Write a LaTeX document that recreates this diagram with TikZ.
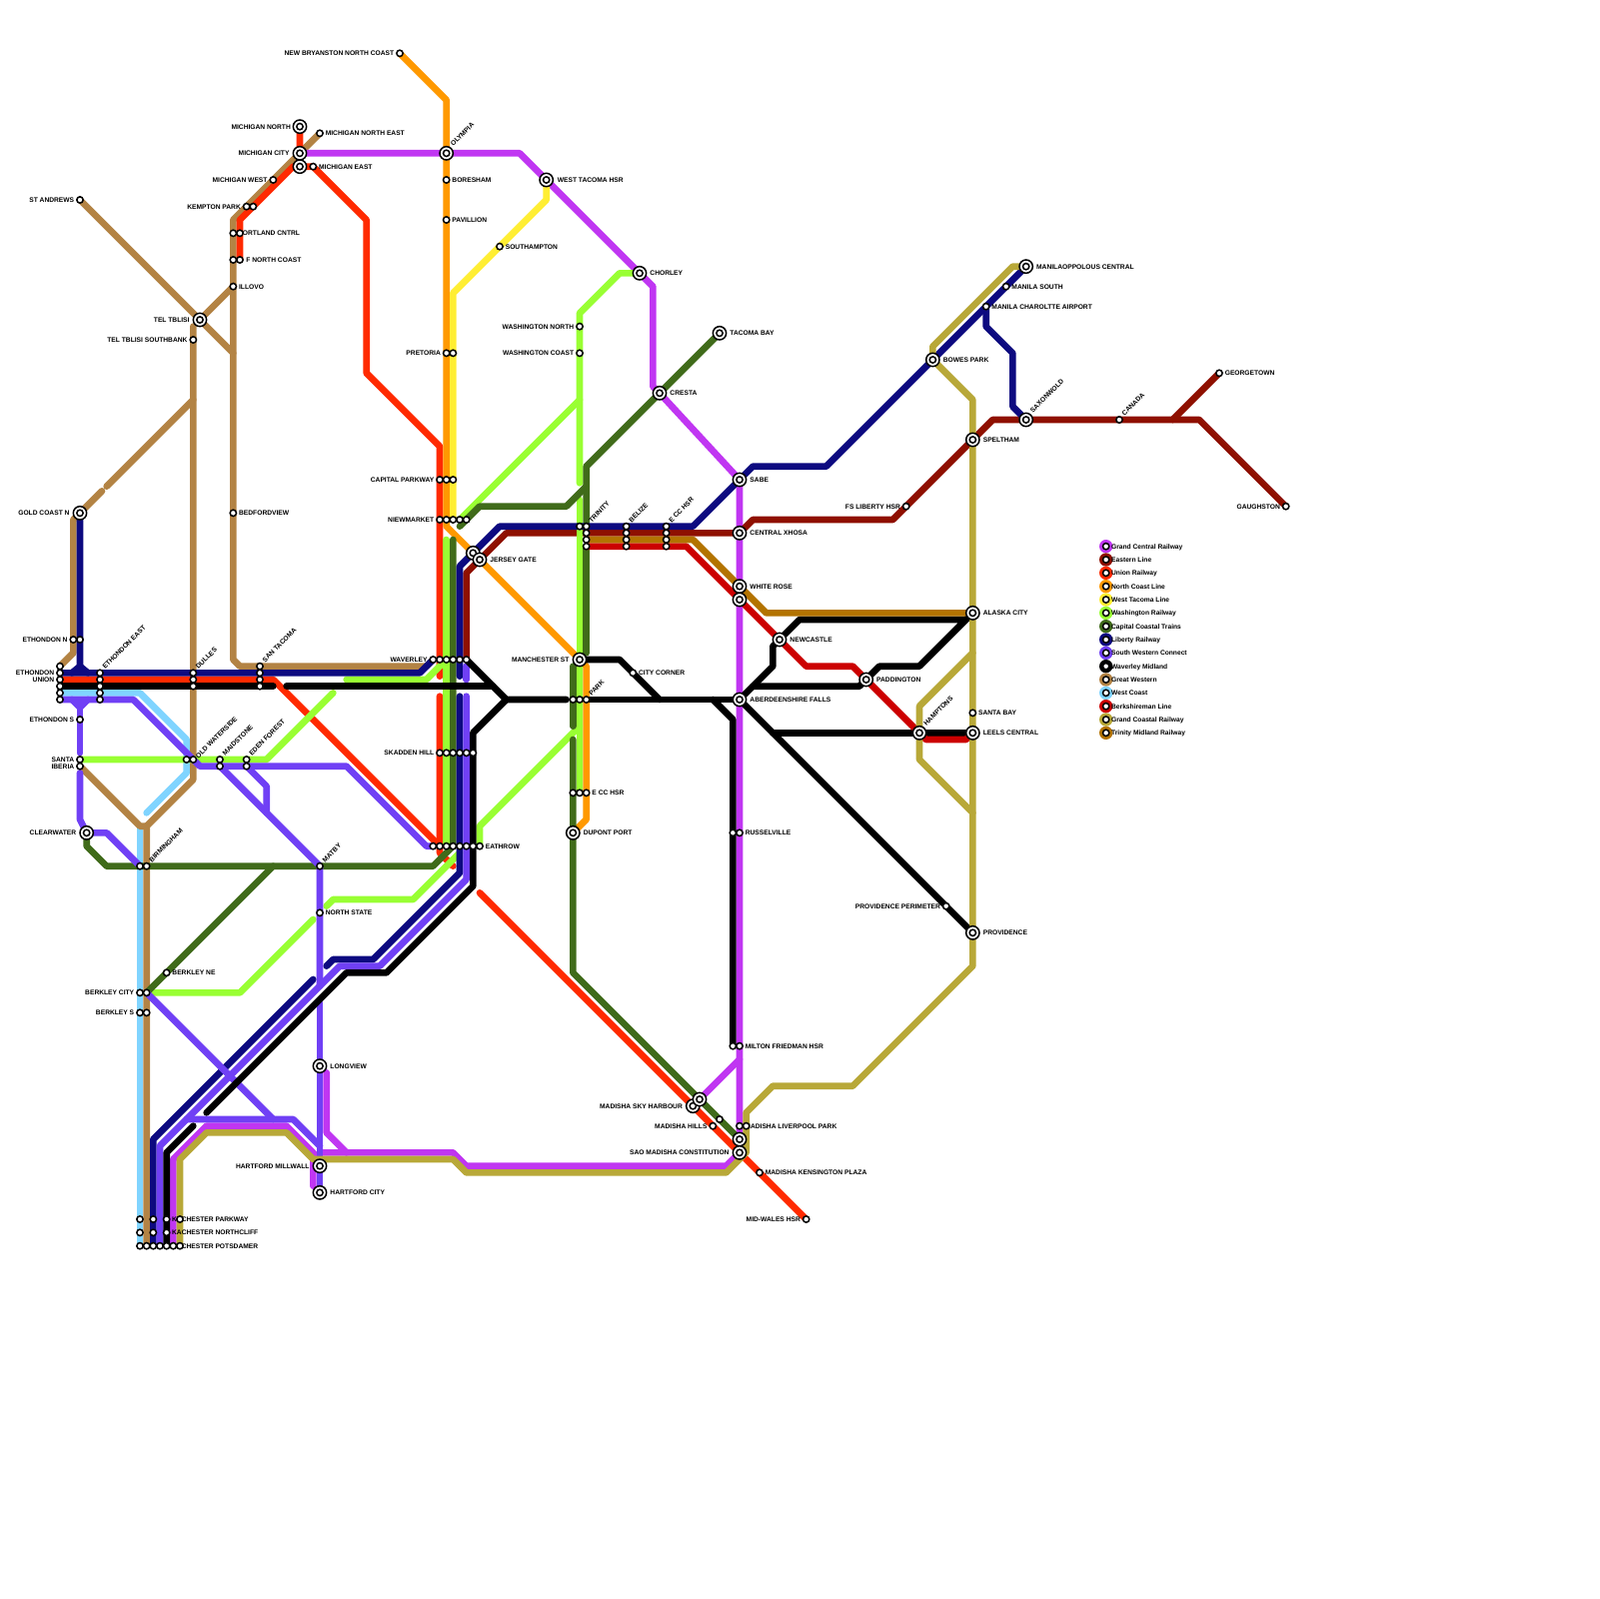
\documentclass[tikz,border=0pt]{standalone}
\usepackage{fontspec}
\setmainfont{Liberation Sans}[BoldFont={Liberation Sans Bold}]
\definecolor{cGC}{HTML}{C036F2}
\definecolor{cEA}{HTML}{8F1000}
\definecolor{cUN}{HTML}{FF2A00}
\definecolor{cNC}{HTML}{FF9900}
\definecolor{cWT}{HTML}{FFEE33}
\definecolor{cWA}{HTML}{99FF33}
\definecolor{cCC}{HTML}{406B1A}
\definecolor{cLI}{HTML}{0D0A80}
\definecolor{cSW}{HTML}{7040F5}
\definecolor{cWM}{HTML}{000000}
\definecolor{cGW}{HTML}{B38344}
\definecolor{cWC}{HTML}{80D4FF}
\definecolor{cBE}{HTML}{CC0000}
\definecolor{cGO}{HTML}{B8A838}
\definecolor{cTM}{HTML}{B37300}
\pgfdeclarelayer{lines}
\pgfdeclarelayer{top}
\pgfsetlayers{lines,main,top}
\tikzset{
 ln/.style={line width=1mm,line cap=round,line join=round,draw=#1},
 stn/.style={circle,draw=black,fill=white,line width=0.65pt,minimum size=0.95mm,inner sep=0pt},
 icn/.style={circle,draw=black,fill=white,line width=0.65pt,minimum size=2mm,inner sep=0pt},
 bub/.style={circle,fill=#1,minimum size=2mm,inner sep=0pt},
 lab/.style={inner sep=0pt,font=\fontsize{2.85}{3.2}\selectfont\bfseries,text=black}
}
\newcommand\sA[3]{\node[stn] (#1) at (#2,#3) {};}
\newcommand\sB[3]{\node[icn] (#1) at (#2,#3) {}; \node[stn] (#1i) at (#2,#3) {};}
\newcommand\lR[3][0.8]{\node[lab,anchor=base west] (#2t) at ([xshift=#1mm,yshift=-1pt]#2.center) {#3};}
\newcommand\lL[3][0.8]{\node[lab,anchor=base east] (#2t) at ([xshift=-#1mm,yshift=-1pt]#2.center) {#3};}
\newcommand\lU[3][0.75mm,0.5mm]{\node[lab,anchor=base west,rotate=45] (#2t) at ([shift={(#1)}]#2.center) {#3};}
\newcommand\legit[3]{\node[bub=#2] (lgb#1) at (166,#1) {}; \node[stn] (lgs#1) at (166,#1) {}; \node[lab,anchor=base west] (lgt#1) at ([xshift=0.75mm,yshift=-1pt]lgs#1.center) {#3};}
\begin{document}
\begin{tikzpicture}[x=1mm,y=-1mm]
\useasboundingbox (0,0) rectangle (240,240);
\begin{pgfonlayer}{top}
\sA{nb}{60}{8}\sB{oly}{67}{23}\sA{bor}{67}{27}\sA{pav}{67}{33}\sA{pra}{67}{53}\sA{prb}{68}{53}
\sA{cpa}{66}{72}\sA{cpb}{67}{72}\sA{cpc}{68}{72}
\sA{nma}{66}{78}\sA{nmb}{67}{78}\sA{nmc}{68}{78}\sA{nmd}{69}{78}\sA{nme}{70}{78}
\sA{wva}{65}{99}\sA{wvb}{66}{99}\sA{wvc}{67}{99}\sA{wvd}{68}{99}\sA{wve}{69}{99}\sA{wvf}{70}{99}
\sB{jga}{71}{83}\sB{jgb}{72}{84}\sB{man}{87}{99}
\sA{pka}{86}{105}\sA{pkb}{87}{105}\sA{pkc}{88}{105}\sA{cco}{95}{101}
\sA{tra}{87}{79}\sA{trb}{88}{79}\sA{trc}{88}{80}\sA{trd}{88}{81}\sA{tre}{88}{82}
\sA{bea}{94}{79}\sA{beb}{94}{80}\sA{bec}{94}{81}\sA{bed}{94}{82}
\sA{eca}{100}{79}\sA{ecb}{100}{80}\sA{ecc}{100}{81}\sA{ecd}{100}{82}
\sA{ska}{66}{113}\sA{skb}{67}{113}\sA{skc}{68}{113}\sA{skd}{69}{113}\sA{ske}{70}{113}\sA{skf}{71}{113}
\sA{exa}{86}{119}\sA{exb}{87}{119}\sA{exc}{88}{119}\sB{dup}{86}{125}
\sA{eaa}{65}{127}\sA{eab}{66}{127}\sA{eac}{67}{127}\sA{ead}{68}{127}\sA{eae}{69}{127}\sA{eaf}{70}{127}\sA{eag}{71}{127}\sA{eah}{72}{127}
\sA{etha}{9}{100}\sA{ethb}{9}{101}\sA{ethc}{9}{102}\sA{ethd}{9}{103}\sA{ethe}{9}{104}\sA{ethf}{9}{105}
\sA{eea}{15}{101}\sA{eeb}{15}{102}\sA{eec}{15}{103}\sA{eed}{15}{104}\sA{eee}{15}{105}
\sA{ena}{11}{96}\sA{enb}{12}{96}\sB{gcn}{12}{77}\sA{ess}{12}{108}\sA{san}{12}{114}\sA{ibe}{12}{115}
\sA{dua}{29}{101}\sA{dub}{29}{102}\sA{duc}{29}{103}
\sA{sta}{39}{100}\sA{stb}{39}{101}\sA{stc}{39}{102}\sA{std}{39}{103}
\sA{owa}{28}{114}\sA{owb}{29}{114}\sA{mda}{33}{114}\sA{mdb}{33}{115}\sA{efa}{37}{114}\sA{efb}{37}{115}
\sB{clw}{13}{125}\sA{bia}{21}{130}\sA{bib}{22}{130}\sA{mat}{48}{130}\sA{nst}{48}{137}\sA{bne}{25}{146}
\sA{bca}{21}{149}\sA{bcb}{22}{149}\sA{bsa}{21}{152}\sA{bsb}{22}{152}
\sB{lon}{48}{160}\sB{hmi}{48}{175}\sB{hci}{48}{179}
\sA{kpa}{21}{183}\sA{kpb}{23}{183}\sA{kpc}{25}{183}\sA{kpd}{27}{183}
\sA{kna}{21}{185}\sA{knb}{23}{185}\sA{knc}{25}{185}
\sA{kka}{21}{187}\sA{kkb}{22}{187}\sA{kkc}{23}{187}\sA{kkd}{24}{187}\sA{kke}{25}{187}\sA{kkf}{26}{187}\sA{kkg}{27}{187}
\sB{msh}{104}{166}\sB{msi}{105}{165}\sA{msj}{108}{168}\sA{mhi}{107}{169}\sA{lva}{111}{169}\sA{lvb}{112}{169}
\sB{mdx}{111}{171}\sB{sao}{111}{173}\sA{ken}{114}{176}\sA{mid}{121}{183}\sA{mfa}{110}{157}\sA{mfb}{111}{157}
\sB{mno}{45}{19}\sA{mne}{48}{20}\sB{mci}{45}{23}\sB{mea}{45}{25}\sA{mex}{47}{25}\sA{mwe}{41}{27}
\sA{kea}{37}{31}\sA{keb}{38}{31}\sA{poa}{35}{35}\sA{pob}{36}{35}\sA{nca}{35}{39}\sA{ncb}{36}{39}\sA{ill}{35}{43}
\sB{tel}{30}{48}\sA{tes}{29}{51}\sA{sta0}{12}{30}\sA{bed}{35}{77}
\sB{wth}{82}{27}\sA{sou}{75}{37}\sB{cho}{96}{41}\sB{cre}{99}{59}\sB{tac}{108}{50}\sA{wsn}{87}{49}\sA{wsc}{87}{53}
\sB{sab}{111}{72}\sB{cxh}{111}{80}\sB{wro}{111}{88}\sB{wrb}{111}{90}\sB{new}{117}{96}\sB{pad}{130}{102}\sB{abe}{111}{105}
\sB{ham}{138}{110}\sB{lee}{146}{110}\sA{sby}{146}{107}\sB{ala}{146}{92}\sA{rua}{110}{125}\sA{rub}{111}{125}
\sA{ppe}{142}{136}\sB{pro}{146}{140}\sB{bow}{140}{54}\sB{spe}{146}{66}\sA{fsl}{136}{76}
\sB{mpc}{154}{40}\sA{mso}{151}{43}\sA{mch}{148}{46}\sB{sax}{154}{63}\sA{can}{168}{63}\sA{geo}{183}{56}\sA{gau}{193}{76}
\end{pgfonlayer}
% labels
\lL{nb}{NEW BRYANSTON NORTH COAST}\lU[1mm,0.95mm]{oly}{OLYMPIA}\lR{bor}{BORESHAM}\lR{pav}{PAVILLION}\lL{pra}{PRETORIA}
\lL{cpa}{CAPITAL PARKWAY}\lL{nma}{NIEWMARKET}\lL{wva}{WAVERLEY}\lR[1.5]{jgb}{JERSEY GATE}\lL[1.5]{man}{MANCHESTER ST}
\lU{pkc}{PARK}\lR{cco}{CITY CORNER}\lU{trb}{TRINITY}\lU{bea}{BELIZE}\lU{eca}{E CC HSR}
\lL{ska}{SKADDEN HILL}\lR{exc}{E CC HSR}\lR[1.5]{dup}{DUPONT PORT}\lR{eah}{EATHROW}
\lL{ethb}{ETHONDON}\lL{ethc}{UNION}\lU{eea}{ETHONDON EAST}\lL{ena}{ETHONDON N}\lL[1.5]{gcn}{GOLD COAST N}\lL{ess}{ETHONDON S}
\lL{san}{SANTA}\lL{ibe}{IBERIA}\lU{dua}{DULLES}\lU{sta}{SAN TACOMA}\lU[0.75mm,0.1mm]{owb}{OLD WATERSIDE}\lU{mda}{MAIDSTONE}\lU{efa}{EDEN FOREST}
\lL[1.5]{clw}{CLEARWATER}\lU{bib}{BIRMINGHAM}\lU{mat}{MATBY}\lR{nst}{NORTH STATE}\lR{bne}{BERKLEY NE}
\lL{bca}{BERKLEY CITY}\lL{bsa}{BERKLEY S}\lR[1.5]{lon}{LONGVIEW}\lL[1.5]{hmi}{HARTFORD MILLWALL}\lR[1.5]{hci}{HARTFORD CITY}
\lR[0.75]{kpc}{KACHESTER PARKWAY}\lR[0.75]{knc}{KACHESTER NORTHCLIFF}\lR[0.75]{kke}{KACHESTER POTSDAMER}
\lL[1.5]{msh}{MADISHA SKY HARBOUR}\lL{mhi}{MADISHA HILLS}\lR[0.75]{lva}{MADISHA LIVERPOOL PARK}\lL[1.5]{sao}{SAO MADISHA CONSTITUTION}
\lR{ken}{MADISHA KENSINGTON PLAZA}\lL{mid}{MID-WALES HSR}\lR{mfb}{MILTON FRIEDMAN HSR}
\lL[1.3]{mno}{MICHIGAN NORTH}\lR{mne}{MICHIGAN NORTH EAST}\lL[1.5]{mci}{MICHIGAN CITY}\lR{mex}{MICHIGAN EAST}\lL{mwe}{MICHIGAN WEST}
\lL{kea}{KEMPTON PARK}\lR[0.7]{poa}{PORTLAND CNTRL}\node[lab,anchor=base west] (ncbt) at ([xshift=0.9mm,yshift=-1pt]ncb.center) {F NORTH COAST};
\lR{ill}{ILLOVO}\lL[1.5]{tel}{TEL TBLISI}\lL{tes}{TEL TBLISI SOUTHBANK}\lL{sta0}{ST ANDREWS}\lR{bed}{BEDFORDVIEW}
\lR[1.6]{wth}{WEST TACOMA HSR}\lR{sou}{SOUTHAMPTON}\lR[1.5]{cho}{CHORLEY}\lR[1.5]{cre}{CRESTA}\lR[1.5]{tac}{TACOMA BAY}
\lL{wsn}{WASHINGTON NORTH}\lL{wsc}{WASHINGTON COAST}\lR[1.5]{sab}{SABE}\lR[1.5]{cxh}{CENTRAL XHOSA}\lR[1.5]{wro}{WHITE ROSE}
\lR[1.5]{new}{NEWCASTLE}\lR[1.5]{pad}{PADDINGTON}\lR[1.5]{abe}{ABERDEENSHIRE FALLS}\lU[1mm,0.95mm]{ham}{HAMPTONS}\lR[1.5]{lee}{LEELS CENTRAL}
\lR{sby}{SANTA BAY}\lR[1.5]{ala}{ALASKA CITY}\lR{rub}{RUSSELVILLE}\lL{ppe}{PROVIDENCE PERIMETER}\lR[1.5]{pro}{PROVIDENCE}
\lR[1.5]{bow}{BOWES PARK}\lR[1.5]{spe}{SPELTHAM}\lL{fsl}{FS LIBERTY HSR}\lR[1.5]{mpc}{MANILAOPPOLOUS CENTRAL}\lR{mso}{MANILA SOUTH}
\lR{mch}{MANILA CHAROLTTE AIRPORT}\lU[1mm,0.95mm]{sax}{SAXONWOLD}\lU{can}{CANADA}\lR{geo}{GEORGETOWN}\lL{gau}{GAUGHSTON}
% legend
\legit{82}{cGC}{Grand Central Railway}\legit{84}{cEA}{Eastern Line}\legit{86}{cUN}{Union Railway}\legit{88}{cNC}{North Coast Line}
\legit{90}{cWT}{West Tacoma Line}\legit{92}{cWA}{Washington Railway}\legit{94}{cCC}{Capital Coastal Trains}\legit{96}{cLI}{Liberty Railway}
\legit{98}{cSW}{South Western Connect}\legit{100}{cWM}{Waverley Midland}\legit{102}{cGW}{Great Western}\legit{104}{cWC}{West Coast}
\legit{106}{cBE}{Berkshireman Line}\legit{108}{cGO}{Grand Coastal Railway}\legit{110}{cTM}{Trinity Midland Railway}
\begin{pgfonlayer}{lines}
\fill[white] (0,0) rectangle (240,240);
% West Coast
\draw[ln=cWC] (ethe.center) -- (21,104) -- (28,111) -- (28,116) -- (22,122);
\draw[ln=cWC] (21,124) -- (kka.center);
% Great Western
\draw[ln=cGW] (sta0.center) -- (tel.center) -- (ill.center);
\draw[ln=cGW] (tel.center) -- (35,53);
\draw[ln=cGW] (mne.center) -- (35,33) -- (35,99) -- (36,100) -- (64,100) -- (wva.center);
\draw[ln=cGW] (29,49) -- (29,117) -- (22,124) -- (kkb.center);
\draw[ln=cGW] (ibe.center) -- (21,124) -- (22,124);
\draw[ln=cGW] (etha.center) -- (11,98) -- (11,78) -- (gcn.center) -- (15.3,73.7);
\draw[ln=cGW] (16,73) -- (29,60);
% Grand Central
\draw[ln=cGC] (mci.center) -- (78,23) -- (wth.center) -- (cho.center) -- (98,43) -- (98,58) -- (cre.center) -- (sab.center) -- (sao.center) -- (109,175) -- (70,175) -- (68,173) -- (48,173);
\draw[ln=cGC] (49,161) -- (49,170) -- (52,173);
\draw[ln=cGC] (47,178) -- (47,174) -- (48,173);
\draw[ln=cGC] (kkf.center) -- (26,174) -- (31,169) -- (43,169) -- (47,173);
\draw[ln=cGC] (msi.center) -- (111,159);
% Eastern
\draw[ln=cEA] (gau.center) -- (180,63) -- (149,63) -- (spe.center) -- (fsl.center) -- (134,78) -- (113,78) -- (cxh.center) -- (76,80) -- (70,86) -- (wvf.center);
\draw[ln=cEA] (geo.center) -- (176,63);
% Union
\draw[ln=cUN] (72,134) -- (mid.center);
\draw[ln=cUN] (68,130) -- (66,128) -- (66,104.5);
\draw[ln=cUN] (66,101.5) -- (wvb.center) -- (66,67) -- (65,66) -- (55,56) -- (55,33) -- (mex.center) -- (mea.center) -- (mci.center) -- (mno.center);
\draw[ln=cUN] (mea.center) -- (44,25) -- (36,33) -- (ncb.center);
\draw[ln=cUN] (ethc.center) -- (41,102) -- (65,126) -- (eab.center);
% North Coast
\draw[ln=cNC] (nb.center) -- (67,15) -- (67,79) -- (man.center) -- (88,100) -- (88,123) -- (dup.center);
% West Tacoma
\draw[ln=cWT] (wth.center) -- (82,30) -- (68,44) -- (nmc.center);
% Washington
\draw[ln=cWA] (cho.center) -- (93,41) -- (87,47) -- (87,72.5);
\draw[ln=cWA] (87,75) -- (exb.center);
\draw[ln=cWA] (nmd.center) -- (87,60);
\draw[ln=cWA] (67,81) -- (eac.center);
\draw[ln=cWA] (69,128) -- (62,135) -- (50,135) -- (49,136);
\draw[ln=cWA] (52,102) -- (64,102) -- (wvc.center);
\draw[ln=cWA] (san.center) -- (40,114) -- (50,104);
\draw[ln=cWA] (bcb.center) -- (36,149) -- (47,138);
\draw[ln=cWA] (eah.center) -- (72,124) -- (87,109);
% Capital Coastal
\draw[ln=cCC] (tac.center) -- (88,70) -- (trb.center);
\draw[ln=cCC] (tre.center) -- (88,98);
\draw[ln=cCC] (86,100) -- (86,109);
\draw[ln=cCC] (86,111) -- (86,146) -- (mdx.center);
\draw[ln=cCC] (88,73) -- (85,76) -- (72,76) -- (69,79);
\draw[ln=cCC] (68,81) -- (ead.center) -- (65,130) -- (16,130) -- (13,127) -- (clw.center);
\draw[ln=cCC] (bcb.center) -- (41,130);
% Liberty
\draw[ln=cLI] (mpc.center) -- (bow.center) -- (124,70) -- (113,70) -- (sab.center) -- (104,79) -- (75,79) -- (69,85) -- (69,101.5);
\draw[ln=cLI] (69,104.5) -- (69,131) -- (56,144) -- (50,144) -- (49,145);
\draw[ln=cLI] (47,147) -- (23,171) -- (kkc.center);
\draw[ln=cLI] (ethb.center) -- (63,101) -- (wva.center);
\draw[ln=cLI] (gcn.center) -- (12,100) -- (10.8,101);
\draw[ln=cLI] (12,100) -- (13.2,101);
\draw[ln=cLI] (mch.center) -- (148,49) -- (152,53) -- (152,61) -- (sax.center);
% South Western
\draw[ln=cSW] (ethf.center) -- (20,105) -- (30,115) -- (52,115) -- (64,127) -- (eaa.center);
\draw[ln=cSW] (10.8,105) -- (12,106.2) -- (13.2,105);
\draw[ln=cSW] (12,106) -- (12,113);
\draw[ln=cSW] (12,116) -- (12,123) -- (clw.center) -- (16,125) -- (bia.center);
\draw[ln=cSW] (33,115) -- (mat.center) -- (48,148);
\draw[ln=cSW] (48,150.5) -- (hci.center);
\draw[ln=cSW] (37,115) -- (40,118) -- (40,122);
\draw[ln=cSW] (bcb.center) -- (41,168);
\draw[ln=cSW] (28,168) -- (44,168) -- (48,172);
\draw[ln=cSW] (70,100) -- (70,102);
\draw[ln=cSW] (70,104.5) -- (70,132) -- (57,145) -- (51,145) -- (48,148) -- (24,172) -- (kkd.center);
% Waverley
\draw[ln=cWM] (ethd.center) -- (41,103);
\draw[ln=cWM] (43,103) -- (74,103);
\draw[ln=cWM] (wvf.center) -- (76,105) -- (85,105);
\draw[ln=cWM] (76,105) -- (71,110) -- (71,133) -- (58,146) -- (52,146) -- (31,167);
\draw[ln=cWM] (29,169) -- (25,173) -- (kke.center);
\draw[ln=cWM] (man.center) -- (93,99) -- (99,105);
\draw[ln=cWM] (pkc.center) -- (abe.center);
\draw[ln=cWM] (107,105) -- (110,108) -- (mfa.center);
\draw[ln=cWM] (abe.center) -- (116,100) -- (116,97) -- (new.center) -- (120,93) -- (145,93) -- (ala.center) -- (138,100) -- (132,100) -- (pad.center);
\draw[ln=cWM] (113,103) -- (129,103) -- (pad.center);
\draw[ln=cWM] (abe.center) -- (pro.center);
\draw[ln=cWM] (116,110) -- (lee.center);
% Berkshireman
\draw[ln=cBE] (tre.center) -- (103,82) -- (121,100) -- (128,100) -- (139,111) -- (145,111) -- (lee.center);
% Grand Coastal
\draw[ln=cGO] (mpc.center) -- (152,40) -- (140,52) -- (bow.center) -- (146,60) -- (146,145) -- (128,163) -- (116,163) -- (112,167) -- (112,173) -- (109,176) -- (70,176) -- (68,174) -- (47,174) -- (43,170) -- (31,170) -- (27,174) -- (kkg.center);
\draw[ln=cGO] (146,98) -- (138,106) -- (138,114) -- (146,122);
% Trinity Midland
\draw[ln=cTM] (trd.center) -- (104,81) -- (115,92) -- (ala.center);
\end{pgfonlayer}
\end{tikzpicture}
\end{document}
